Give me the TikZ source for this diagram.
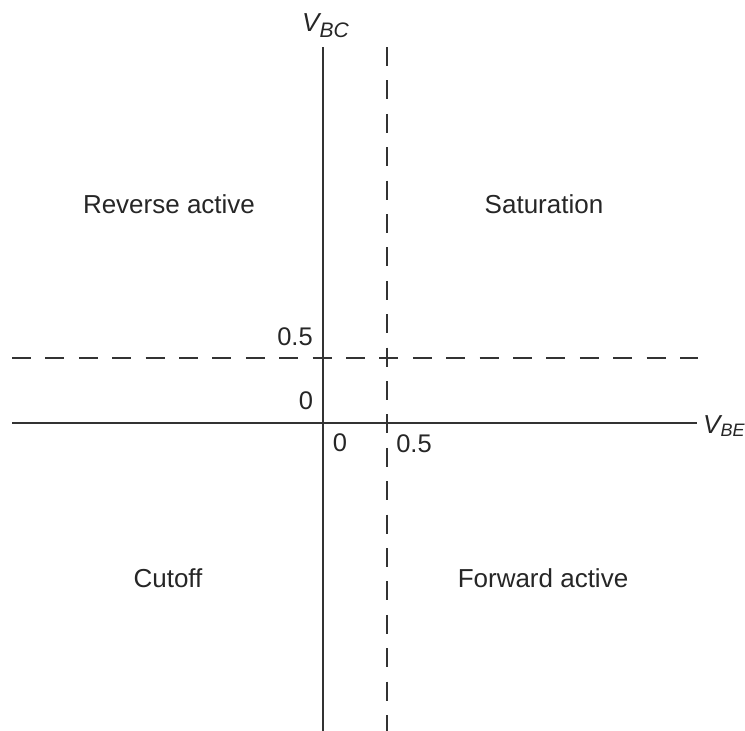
\documentclass[tikz,border=0pt]{standalone}
\usepackage{fontspec}
\setmainfont{Liberation Sans}
\begin{document}
\begin{tikzpicture}[x=1pt,y=-1pt,
  axis/.style={draw=black!80,line width=2pt},
  guide/.style={draw=black!80,line width=2pt,dash pattern=on 19pt off 14.4pt},
  region/.style={font=\fontsize{26}{30}\selectfont,text=black!85,inner sep=0pt},
  tick/.style={font=\fontsize{25.5}{30}\selectfont,text=black!85,inner sep=0pt},
  axlabel/.style={font=\fontsize{26}{30}\selectfont\itshape,text=black!85,inner sep=0pt}]
\useasboundingbox (0,0) rectangle (745,731);
% axis end points
\coordinate (vtop) at (322.5,47);
\coordinate (vbot) at (322.5,735);
\coordinate (hleft) at (12,422.5);
\coordinate (hright) at (697,422.5);
% threshold guides at 0.5 V
\coordinate (gvtop) at (386.5,47);
\coordinate (gvbot) at (386.5,740);
\coordinate (ghleft) at (12,358);
\coordinate (ghright) at (698,358);
\draw[axis] (vtop) -- (vbot);
\draw[axis] (hleft) -- (hright);
\draw[guide] (gvtop) -- (gvbot);
\draw[guide] (ghleft) -- (ghright);
% axis labels
\node[axlabel,anchor=base west] (vbc) at (302,31) {V\textsubscript{\fontsize{21}{24}\selectfont BC}};
\node[axlabel,anchor=base west] (vbe) at (703,433) {V\textsubscript{\fontsize{18}{22}\selectfont BE}};
% tick values
\node[tick] (y05) at (295,337) {0.5};
\node[tick] (y0) at (306,401) {0};
\node[tick] (x0) at (340,443) {0};
\node[tick] (x05) at (414,444) {0.5};
% operating regions
\node[region] (rev) at (169,204) {Reverse active};
\node[region] (sat) at (544,204) {Saturation};
\node[region] (cut) at (168,578) {Cutoff};
\node[region] (fwd) at (543,578) {Forward active};
\end{tikzpicture}
\end{document}
